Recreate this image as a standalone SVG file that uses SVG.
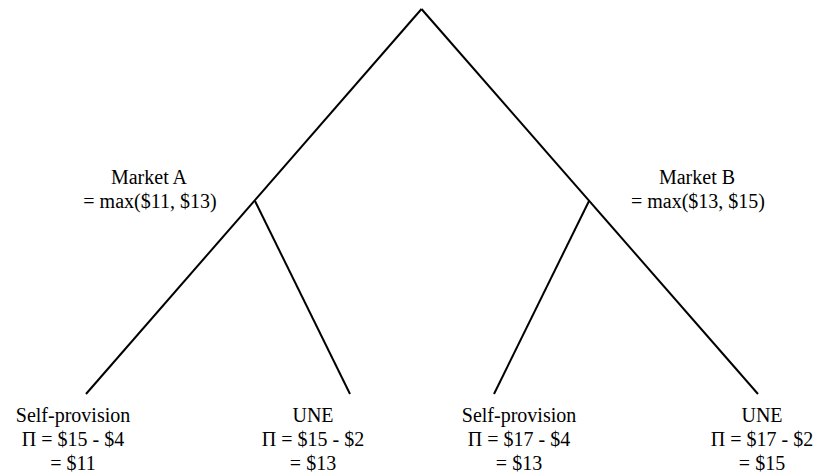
<svg xmlns="http://www.w3.org/2000/svg" width="814" height="474" viewBox="0 0 814 474">
<style>
.e{stroke:#000;stroke-width:2;fill:none;stroke-linecap:butt}
text{font-family:"Liberation Serif","Times New Roman",serif;font-size:20px;fill:#000;text-anchor:middle}
</style>
<rect width="814" height="474" fill="#fff"/>
<g id="connectors">
<line class="e" x1="421.5" y1="9" x2="86" y2="394"/>
<line class="e" x1="421.5" y1="9" x2="758" y2="394"/>
<line class="e" x1="255" y1="201" x2="350" y2="394"/>
<line class="e" x1="589" y1="201" x2="494" y2="394"/>
</g>
<g id="marketA">
<text x="149" y="184">Market A</text>
<text x="150" y="208">= max($11, $13)</text>
</g>
<g id="marketB">
<text x="697" y="184">Market B</text>
<text x="698" y="208">= max($13, $15)</text>
</g>
<g id="leafA1">
<text x="73" y="422">Self-provision</text>
<text x="73" y="446">Π = $15 - $4</text>
<text x="73" y="470">= $11</text>
</g>
<g id="leafA2">
<text x="313" y="422">UNE</text>
<text x="313" y="446">Π = $15 - $2</text>
<text x="313" y="470">= $13</text>
</g>
<g id="leafB1">
<text x="519" y="422">Self-provision</text>
<text x="519" y="446">Π = $17 - $4</text>
<text x="519" y="470">= $13</text>
</g>
<g id="leafB2">
<text x="762" y="422">UNE</text>
<text x="762" y="446">Π = $17 - $2</text>
<text x="762" y="470">= $15</text>
</g>
</svg>
